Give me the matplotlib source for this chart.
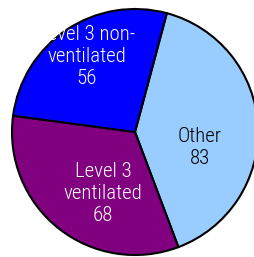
import matplotlib
matplotlib.use("Agg")
import matplotlib.pyplot as plt

categories = ["Other", "Level 3\nventilated", "Level 3 non-\nventilated"]
values = [83, 68, 56]
colors = ["#99CCFF", "#800080", "#0000FF"]
text_colors = ["black", "white", "white"]

fig = plt.figure(figsize=(2.55, 2.57), dpi=100)
ax = fig.add_axes([0, 0, 1, 1])
ax.set_axis_off()

wedges, _ = ax.pie(values, colors=colors, startangle=75, counterclock=False,
                   radius=1.0, center=(0, 0),
                   wedgeprops=dict(edgecolor="black", linewidth=1.5))

ax.set_xlim(-135/123, 120/123)
ax.set_ylim(-125/123, 132/123)
ax.set_aspect("auto")

label_pos = [(0.528, -0.122), (-0.26, -0.504), (-0.39, 0.61)]
fam = ["Roboto Condensed", "DejaVu Sans"]
for cat, v, (x, y), tc in zip(categories, values, label_pos, text_colors):
    ax.text(x, y, f"{cat}\n{v}", ha="center", va="center", color=tc,
            fontsize=15, family=fam, fontweight="light", linespacing=1.2)

fig.savefig("out.png", dpi=100)
